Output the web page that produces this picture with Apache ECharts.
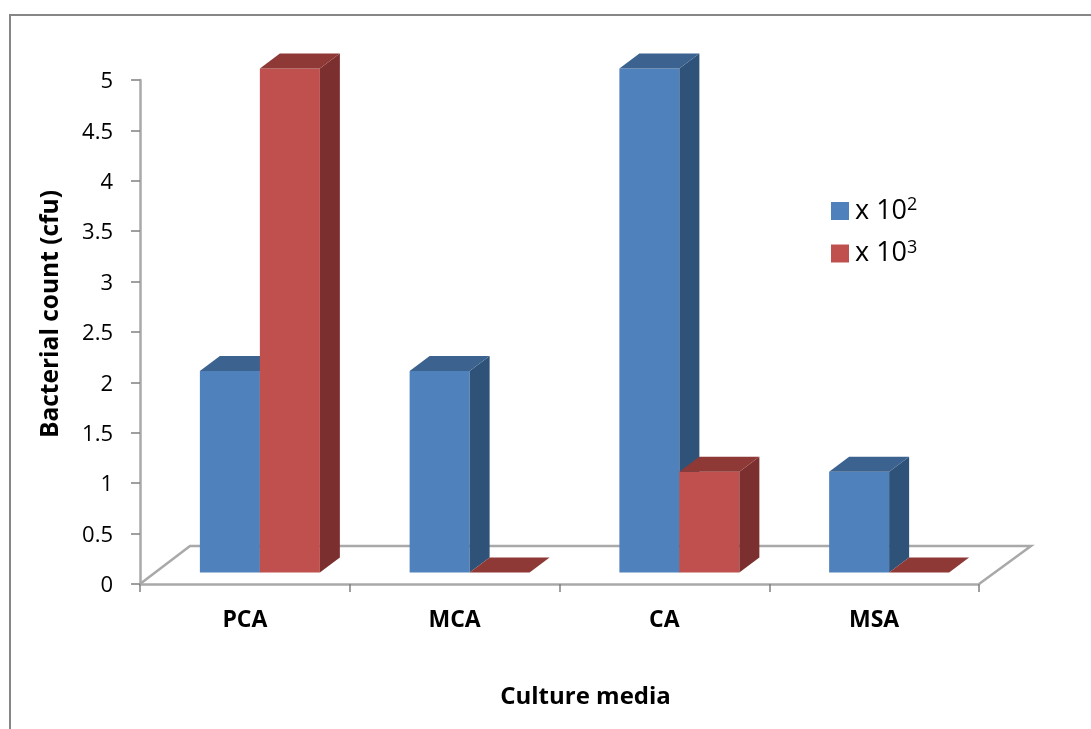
<!DOCTYPE html>
<html>
<head>
<meta charset="utf-8">
<style>html,body{margin:0;padding:0;background:#fff}#chart{width:1091px;height:729px}</style>
<script src="https://cdn.jsdelivr.net/npm/echarts@6/dist/echarts.min.js"></script>
</head>
<body>
<div id="chart"></div>
<script>
const categories = ['PCA', 'MCA', 'CA', 'MSA'];
const countsE2 = [2, 2, 5, 1];
const countsE3 = [5, 0, 1, 0];
const yMax = 5;
const yStep = 0.5;

// Oblique projection of the bar and floor boxes, in pixels
const barFrac = 0.286;
const liftX = 15, liftY = 11.5;     // front face offset from the axis line
const depthX = 20, depthY = 15;     // bar depth
const floorX = 52, floorY = 38;     // floor depth
const FONT = '"Open Sans", Lato, sans-serif';
const GREY = '#a9a9a9';

const palette = {
  blue: { front: '#4f81bd', side: '#2f5279', top: '#3c638f' },
  red:  { front: '#c0504d', side: '#7b2f2e', top: '#8f3937' }
};

function poly(points, fill) {
  return { type: 'polygon', shape: { points }, style: { fill, stroke: null } };
}

// Draws one 3D column; slot 0 or 1 selects its place inside the category
function boxRenderer(slot, colors) {
  return function (params, api) {
    const band = api.size([1, 0])[0];
    const w = band * barFrac;
    const base = api.coord([api.value(0), 0]);
    const tip = api.coord([api.value(0), api.value(1)]);
    const x0 = base[0] - w + slot * w + liftX;
    const x1 = x0 + w;
    const yb = base[1] - liftY;
    const yt = tip[1] - liftY;
    const children = [];
    if (yb - yt > 0.5) {
      children.push(poly([[x0, yb], [x1, yb], [x1, yt], [x0, yt]], colors.front));
      children.push(poly([[x1, yb], [x1 + depthX, yb - depthY], [x1 + depthX, yt - depthY], [x1, yt]], colors.side));
    }
    children.push(poly([[x0, yt], [x1, yt], [x1 + depthX, yt - depthY], [x0 + depthX, yt - depthY]], colors.top));
    return { type: 'group', children };
  };
}

// Floor outline behind the columns; the front edge is the category axis itself
function floorRenderer(params) {
  const c = params.coordSys;
  const xl = c.x, xr = c.x + c.width, y0 = c.y + c.height;
  return {
    type: 'polyline',
    shape: { points: [[xl, y0], [xl + floorX - 2, y0 - floorY], [xr + floorX, y0 - floorY], [xr, y0]] },
    style: { fill: null, stroke: GREY, lineWidth: 2.5 }
  };
}

const rows = (values) => values.map((v, i) => [i, v]);

const chart = echarts.init(document.getElementById('chart'), null, { renderer: 'canvas' });
chart.setOption({
  animation: false,
  backgroundColor: '#ffffff',
  graphic: [{
    // chart-area frame; its bottom edge runs past the page
    type: 'rect',
    shape: { x: 10, y: 15, width: 1200, height: 800 },
    style: { fill: null, stroke: '#868686', lineWidth: 2 },
    silent: true
  }],
  grid: { left: 140, right: 112, top: 80, bottom: 145 },
  legend: {
    left: 826, top: 191, padding: 5, orient: 'vertical',
    itemWidth: 18, itemHeight: 18, itemGap: 14,
    icon: 'rect',
    data: ['x 10²', 'x 10³'],
    formatter: (n) => n === 'x 10²' ? 'x 10{sup|2}' : 'x 10{sup|3}',
    textStyle: {
      fontFamily: FONT, fontSize: 27, color: '#000', padding: [0, 0, 0, 1],
      rich: { sup: { fontFamily: FONT, fontSize: 18, color: '#000', verticalAlign: 'top', padding: [0, 0, 12, 0] } }
    }
  },
  xAxis: {
    type: 'category',
    data: categories,
    name: 'Culture media',
    nameLocation: 'middle',
    nameGap: 101,
    nameTextStyle: { fontFamily: FONT, fontSize: 24, fontWeight: 'bold', color: '#000', padding: [0, 0, 0, 52] },
    axisLine: { lineStyle: { color: GREY, width: 2.5 } },
    axisTick: { show: true, length: 8, lineStyle: { color: '#808080', width: 1.5 } },
    axisLabel: { fontFamily: FONT, fontSize: 23, fontWeight: 'bold', color: '#000', margin: 25 },
    splitLine: { show: false }
  },
  yAxis: {
    type: 'value',
    min: 0, max: yMax, interval: yStep,
    name: 'Bacterial count (cfu)',
    nameLocation: 'middle',
    nameGap: 76,
    nameTextStyle: { fontFamily: FONT, fontSize: 24.5, fontWeight: 'bold', color: '#000', padding: [0, 0, 0, 36] },
    axisLine: { show: true, lineStyle: { color: GREY, width: 2.5 } },
    axisTick: { show: true, length: 9, lineStyle: { color: '#808080', width: 1.5 } },
    axisLabel: {
      margin: 27,
      formatter: (v) => '{tick|' + v + '}',
      rich: { tick: { fontFamily: FONT, fontSize: 22, color: '#000', padding: [4, 0, 0, 0] } }
    },
    splitLine: { show: false }
  },
  series: [
    { type: 'custom', name: 'floor', silent: true, z: 1, renderItem: floorRenderer, data: [[0, 0]], encode: { x: 0, y: 1 } },
    { type: 'custom', name: 'x 10²', z: 2, renderItem: boxRenderer(0, palette.blue), data: rows(countsE2), encode: { x: 0, y: 1 }, itemStyle: { color: palette.blue.front } },
    { type: 'custom', name: 'x 10³', z: 3, renderItem: boxRenderer(1, palette.red), data: rows(countsE3), encode: { x: 0, y: 1 }, itemStyle: { color: palette.red.front } }
  ]
});
</script>
</body>
</html>
